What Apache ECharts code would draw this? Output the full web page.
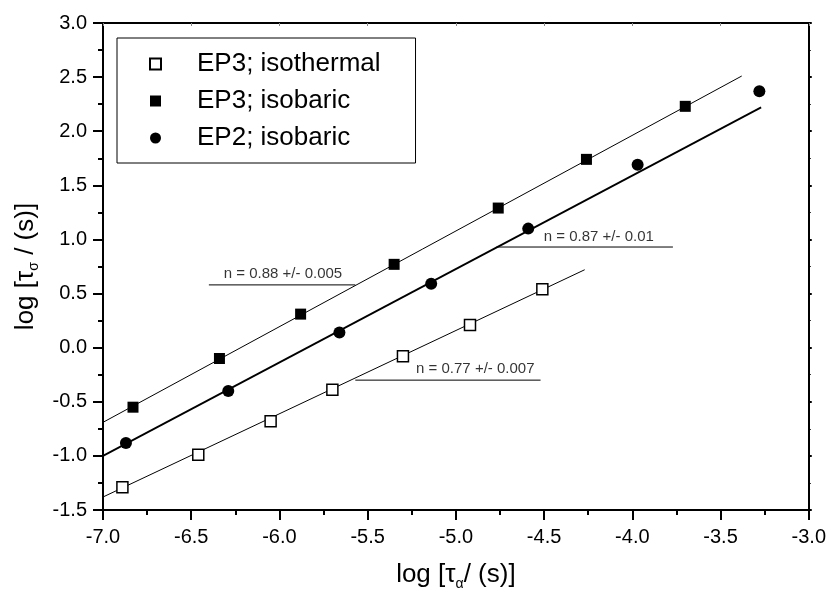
<!DOCTYPE html>
<html>
<head>
<meta charset="utf-8">
<script src="https://cdn.jsdelivr.net/npm/echarts@6/dist/echarts.min.js"></script>
<style>
  html, body { margin: 0; padding: 0; background: #fff; }
  #chart { width: 829px; height: 596px; }
</style>
</head>
<body>
<div id="chart"></div>
<script>
// data
var isoX = [-6.89, -6.46, -6.05, -5.70, -5.30, -4.92, -4.51];
var isoY = [-1.29, -0.99, -0.68, -0.39, -0.08, 0.21, 0.54];
var ep3X = [-6.83, -6.34, -5.88, -5.35, -4.76, -4.26, -3.70];
var ep3Y = [-0.55, -0.10, 0.31, 0.77, 1.29, 1.74, 2.23];
var ep2X = [-6.87, -6.29, -5.66, -5.14, -4.59, -3.97, -3.28];
var ep2Y = [-0.88, -0.40, 0.14, 0.59, 1.10, 1.69, 2.37];

// fit lines (start / end)
var fitIso = [[-7.0, -1.38], [-4.27, 0.72]];
var fitEp3 = [[-7.0, -0.69], [-3.38, 2.51]];
var fitEp2 = [[-7.0, -1.00], [-3.27, 2.22]];

// slope annotations
var noteText = ['n = 0.88 +/- 0.005', 'n = 0.87 +/- 0.01', 'n = 0.77 +/- 0.007'];
var noteLineX = [[-6.40, -5.57], [-4.77, -3.77], [-5.57, -4.52]];
var noteLineY = [0.58, 0.93, -0.30];
var noteTextXY = [[-5.98, 0.68], [-4.19, 1.02], [-4.89, -0.20]];

var xTicks = { min: -7, max: -3, interval: 0.5 };
var yTicks = { min: -1.5, max: 3, interval: 0.5 };

function pairs(xs, ys) {
    return xs.map(function (x, i) { return [x, ys[i]]; });
}

var font = 'Liberation Sans, Arial, sans-serif';
var series = [];

// fit lines
[[fitEp3, 1], [fitEp2, 1.8], [fitIso, 1]].forEach(function (f) {
    series.push({
        type: 'line', data: f[0], symbol: 'none', silent: true,
        lineStyle: { color: '#000', width: f[1] }, z: 2
    });
});

// annotation lines + text
noteText.forEach(function (t, i) {
    series.push({
        type: 'line', symbol: 'none', silent: true,
        data: [[noteLineX[i][0], noteLineY[i]], [noteLineX[i][1], noteLineY[i]]],
        lineStyle: { color: '#000', width: 1 }, z: 2
    });
    series.push({
        type: 'scatter', symbolSize: 0, silent: true,
        data: [{ value: noteTextXY[i], name: t }],
        label: {
            show: true, position: 'inside', formatter: '{b}',
            color: '#000', fontSize: 15, fontFamily: font
        }
    });
});

// markers
series.push({
    name: 'EP3; isothermal', type: 'scatter', symbol: 'rect', symbolSize: 11,
    data: pairs(isoX, isoY),
    itemStyle: { color: '#fff', borderColor: '#000', borderWidth: 1.5, opacity: 1 }, z: 5
});
series.push({
    name: 'EP3; isobaric', type: 'scatter', symbol: 'rect', symbolSize: 11,
    data: pairs(ep3X, ep3Y),
    itemStyle: { color: '#000', opacity: 1 }, z: 5
});
series.push({
    name: 'EP2; isobaric', type: 'scatter', symbol: 'circle', symbolSize: 12,
    data: pairs(ep2X, ep2Y),
    itemStyle: { color: '#000', opacity: 1 }, z: 5
});

var axisLabel = { color: '#000', fontSize: 20, fontFamily: font };
var axisLine = { show: true, onZero: false, lineStyle: { color: '#000', width: 2 } };
var titleRich = {
    a: { fontSize: 26, fontFamily: font, color: '#000', lineHeight: 32 },
    s: { fontSize: 14, fontFamily: font, color: '#000', lineHeight: 32, padding: [18, 0, 0, 0] }
};

var option = {
    animation: false,
    backgroundColor: '#fff',
    grid: { left: 103, right: 17, top: 23, bottom: 81 },
    legend: {
        data: ['EP3; isothermal', 'EP3; isobaric', 'EP2; isobaric'],
        orient: 'vertical',
        left: 117, top: 38,
        padding: [12, 35, 11, 32],
        itemGap: 9,
        itemWidth: 11, itemHeight: 11,
        backgroundColor: '#fff',
        borderColor: '#000', borderWidth: 1,
        textStyle: { color: '#000', fontSize: 26, fontFamily: font, lineHeight: 28, padding: [0, 0, 0, 31] }
    },
    xAxis: [{
        type: 'value', min: xTicks.min, max: xTicks.max, interval: xTicks.interval,
        axisLine: axisLine,
        axisTick: { show: true, inside: false, length: 10, lineStyle: { color: '#000', width: 2 } },
        minorTick: { show: true, splitNumber: 2, length: 5, lineStyle: { color: '#000', width: 2 } },
        splitLine: { show: false },
        axisLabel: Object.assign({ margin: 17, formatter: function (v) { return v.toFixed(1); } }, axisLabel),
        name: '{a|log [τ}{s|α}{a|/ (s)]}',
        nameLocation: 'middle', nameGap: 49,
        nameTextStyle: { rich: titleRich }
    }, {
        type: 'value', position: 'top', min: xTicks.min, max: xTicks.max, interval: xTicks.interval,
        axisLine: axisLine,
        axisTick: { show: true, inside: true, length: 3, lineStyle: { color: '#888' } },
        axisLabel: { show: false }, splitLine: { show: false }
    }],
    yAxis: [{
        type: 'value', min: yTicks.min, max: yTicks.max, interval: yTicks.interval,
        axisLine: axisLine,
        axisTick: { show: true, inside: false, length: 10, lineStyle: { color: '#000', width: 2 } },
        minorTick: { show: true, splitNumber: 2, length: 5, lineStyle: { color: '#000', width: 2 } },
        splitLine: { show: false },
        axisLabel: Object.assign({ margin: 16, formatter: function (v) { return v.toFixed(1); } }, axisLabel),
        name: '{a|log [τ}{s|σ}{a| / (s)]}',
        nameLocation: 'middle', nameGap: 60, nameRotate: 90,
        nameTextStyle: { rich: titleRich }
    }, {
        type: 'value', position: 'right', min: yTicks.min, max: yTicks.max, interval: yTicks.interval,
        axisLine: axisLine,
        axisTick: { show: true, inside: false, length: 3, lineStyle: { color: '#000', width: 2 } },
        minorTick: { show: true, splitNumber: 2, length: 2, lineStyle: { color: '#000' } },
        axisLabel: { show: false }, splitLine: { show: false }
    }],
    series: series
};

var chart = echarts.init(document.getElementById('chart'), null, { renderer: 'canvas' });
chart.setOption(option);
</script>
</body>
</html>
